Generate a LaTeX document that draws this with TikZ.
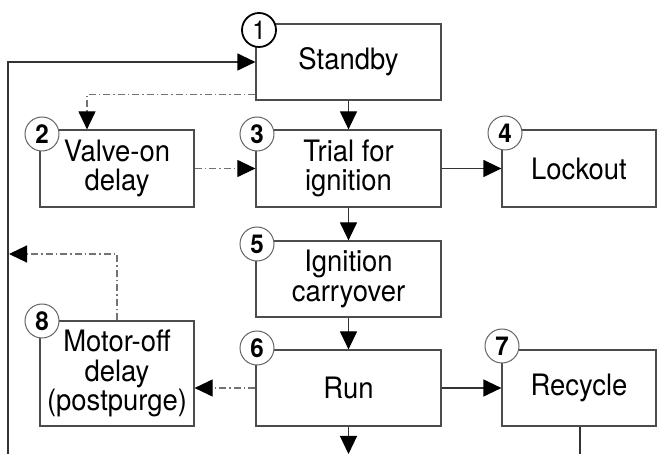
\documentclass[tikz,border=0pt]{standalone}
\usepackage{fontspec}
\setmainfont{TeX Gyre Heros}[FakeStretch=0.93]
\usetikzlibrary{arrows.meta}
\tikzset{
  box/.style={draw=black!70, line width=1.2pt, align=center, inner sep=0pt,
    font=\fontsize{29.5}{29.5}\selectfont},
  num/.style={circle, draw=black!60, line width=1pt, fill=white, minimum size=34pt,
    inner sep=0pt, font=\fontsize{26}{26}\selectfont\bfseries},
  flow/.style={line width=1.2pt, draw=black!80},
  dashdot/.style={line width=1.1pt, draw=black!55,
    dash pattern=on 7pt off 3pt on 1.5pt off 3pt},
}
\begin{document}
\begin{tikzpicture}[x=1pt, y=-1pt, >={Triangle[length=18pt, width=17pt, color=black]}]
\useasboundingbox (0,0) rectangle (657,454);

\node[box, minimum width=185pt, minimum height=76pt] (standby) at (348.5,62) {Standby};
\node[box, minimum width=154pt, minimum height=77pt] (valve) at (117,168.5) {Valve-on\\delay};
\node[box, minimum width=185pt, minimum height=77pt] (trial) at (348.5,168.5) {Trial for\\ignition};
\node[box, minimum width=154pt, minimum height=77pt] (lockout) at (579,168.5) {Lockout};
\node[box, minimum width=185pt, minimum height=76pt] (carry) at (348.5,279) {Ignition\\carryover};
\node[box, minimum width=185pt, minimum height=76pt] (run) at (348.5,388) {Run};
\node[box, minimum width=154pt, minimum height=76pt] (recycle) at (579,388) {Recycle};
\node[box, minimum width=154pt, minimum height=105pt] (motoroff) at (117,373.5) {Motor-off\\delay\\(postpurge)};

\coordinate (fbbot) at (8,454);
\coordinate (fbret) at (9,254);
\coordinate (runbot) at (348.5,454);
\coordinate (recbot) at (580,454);

% main flow
\draw[flow, ->] (standby) -- (trial);
\draw[flow, ->] (trial) -- (lockout);
\draw[flow, ->] (trial) -- (carry);
\draw[flow, ->] (carry) -- (run);
\draw[flow, ->] (run) -- (recycle);
\draw[flow, ->] (run) -- (runbot);
\draw[flow] (recycle.south -| recbot) -- (recbot);
\draw[flow, ->] (fbbot) |- (standby.west);

% delays
\draw[dashdot, ->] ([yshift=6pt]standby.south west) -| ([xshift=-30pt]valve.north);
\draw[dashdot, ->] (valve) -- (trial);
\draw[dashdot, ->] (run.west) -- (run.west -| motoroff.east);
\draw[dashdot, ->] (motoroff.north) |- (fbret);

% step numbers
\node[num, draw=black, line width=1.8pt, font=\fontsize{26}{26}\selectfont] (n1) at (259,30) {1};
\node[num] (n2) at (42,134) {2};
\node[num] (n3) at (257,134) {3};
\node[num] (n4) at (505,133) {4};
\node[num] (n5) at (257,244) {5};
\node[num] (n6) at (257,348) {6};
\node[num] (n7) at (502,346) {7};
\node[num] (n8) at (42,321) {8};

\end{tikzpicture}
\end{document}
